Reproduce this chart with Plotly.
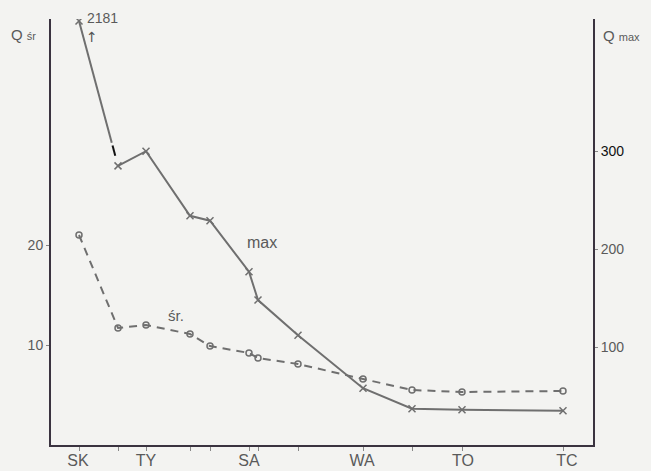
import plotly.graph_objects as go

# Data
stations_pos = [28, 67, 95, 139, 159, 198, 207, 247, 312, 361, 411, 512]
label_pos = [27, 95, 198, 311, 412, 516]
label_text = ["SK", "TY", "SA", "WA", "TO", "TC"]
q_sr = [21.0, 11.7, 12.0, 11.1, 9.9, 9.2, 8.7, 8.1, 6.6, 5.5, 5.3, 5.4]
q_max = [2181, 285, 300, 234, 229, 177, 148, 112, 58, 37, 36, 35]
left_ticks = [10, 20]
right_ticks = [100, 200, 300]

Y2_TOP = 435
cap = 433
max_disp = [min(v, cap) for v in q_max]

GRAY = "#6f6f6f"
AXIS = "#3a3340"
TXT = "#5a5a5a"
FONT = "Liberation Sans, Arial, sans-serif"

fig = go.Figure()

# śr series (dashed, circles)
fig.add_trace(go.Scatter(
    x=stations_pos, y=q_sr, mode="lines+markers",
    line=dict(color=GRAY, width=2, dash="8px,6px"),
    marker=dict(symbol="circle-open", size=6, color=GRAY, line=dict(width=1.5)),
    yaxis="y", showlegend=False, hoverinfo="skip"))

# max series from second station onward
fig.add_trace(go.Scatter(
    x=stations_pos[1:], y=max_disp[1:], mode="lines+markers",
    line=dict(color=GRAY, width=2),
    marker=dict(symbol="x-thin-open", size=7, color=GRAY, line=dict(width=1.5, color=GRAY)),
    yaxis="y2", showlegend=False, hoverinfo="skip"))

# off-scale first point with broken connector
x0, y0 = stations_pos[0], max_disp[0]
x1, y1 = stations_pos[1], max_disp[1]
def lerp(t):
    return x0 + (x1 - x0) * t, y0 + (y1 - y0) * t
xa, ya = lerp(0.84)
fig.add_trace(go.Scatter(
    x=[x0, xa], y=[y0, ya], mode="lines",
    line=dict(color=GRAY, width=2), yaxis="y2", showlegend=False, hoverinfo="skip"))
xb, yb = lerp(0.86)
xc, yc = lerp(0.93)
fig.add_trace(go.Scatter(
    x=[xb, xc], y=[yb, yc], mode="lines",
    line=dict(color="#111111", width=2), yaxis="y2", showlegend=False, hoverinfo="skip"))
fig.add_trace(go.Scatter(
    x=[x0], y=[y0], mode="markers",
    marker=dict(symbol="x-thin-open", size=7, color=GRAY, line=dict(width=1.5, color=GRAY)),
    yaxis="y2", showlegend=False, hoverinfo="skip"))

annotations = [
    dict(x=x0, y=y0, xref="x", yref="y2", text=str(q_max[0]), showarrow=False,
         xanchor="left", yanchor="middle", xshift=6, yshift=3,
         font=dict(family=FONT, size=14, color=TXT)),
    dict(x=x0, y=y0, xref="x", yref="y2", text="\u2191\ufe0e", showarrow=False,
         xanchor="left", yanchor="middle", xshift=5, yshift=-16,
         font=dict(family="DejaVu Sans, sans-serif", size=14, color="#555555")),
    dict(x=stations_pos[6], y=max_disp[6], xref="x", yref="y2", text="max", showarrow=False,
         xanchor="center", yanchor="middle", xshift=4, yshift=58,
         font=dict(family=FONT, size=16, color=TXT)),
    dict(x=stations_pos[2], y=q_sr[2], xref="x", yref="y", text="śr.", showarrow=False,
         xanchor="center", yanchor="middle", xshift=30, yshift=10,
         font=dict(family=FONT, size=15, color=TXT)),
    dict(x=0, y=1, xref="paper", yref="paper", showarrow=False,
         text="Q <span style='font-size:11px'>śr</span>",
         xanchor="right", yanchor="top", xshift=-13, yshift=-5,
         font=dict(family=FONT, size=15, color=TXT)),
    dict(x=1, y=1, xref="paper", yref="paper", showarrow=False,
         text="Q <span style='font-size:11px'>max</span>",
         xanchor="left", yanchor="top", xshift=8, yshift=-6,
         font=dict(family=FONT, size=15, color=TXT)),
]

right_text = [str(v) for v in right_ticks]
right_text = [("<span style='color:#111111'>%s</span>" % t) if t == "300" else t for t in right_text]

fig.update_layout(
    width=651, height=471,
    margin=dict(l=51, r=58, t=19, b=26),
    paper_bgcolor="#f3f3f1", plot_bgcolor="#f3f3f1",
    font=dict(family=FONT, color=TXT),
    xaxis=dict(range=[0, 542], showgrid=False, zeroline=False, automargin=False,
               showline=True, linecolor=AXIS, linewidth=2,
               tickmode="array", tickvals=stations_pos, ticktext=[""] * len(stations_pos),
               ticks="outside", ticklen=4, tickcolor="#888888", tickwidth=1),
    xaxis2=dict(range=[0, 542], overlaying="x", showgrid=False, zeroline=False, automargin=False,
                showline=False, side="bottom", anchor="y",
                tickmode="array", tickvals=label_pos, ticktext=label_text,
                ticks="", ticklabelstandoff=4,
                tickfont=dict(family=FONT, size=16, color=TXT)),
    yaxis=dict(range=[0, 42.6], showgrid=False, zeroline=False, automargin=False,
               showline=True, linecolor=AXIS, linewidth=2,
               tickmode="array", tickvals=left_ticks,
               ticks="outside", ticklen=3, tickcolor="#888888",
               tickfont=dict(family=FONT, size=14, color=TXT)),
    yaxis2=dict(range=[0, Y2_TOP], overlaying="y", side="right", showgrid=False, zeroline=False,
                automargin=False,
                showline=True, linecolor=AXIS, linewidth=2,
                tickmode="array", tickvals=right_ticks, ticktext=right_text,
                ticks="outside", ticklen=3, tickcolor="#888888",
                tickfont=dict(family=FONT, size=14, color=TXT)),
    annotations=annotations,
)

# invisible trace to activate xaxis2 labels
fig.add_trace(go.Scatter(x=[label_pos[0]], y=[0], xaxis="x2", yaxis="y", mode="markers",
                         marker=dict(opacity=0), showlegend=False, hoverinfo="skip"))

fig.write_html("out.html")
